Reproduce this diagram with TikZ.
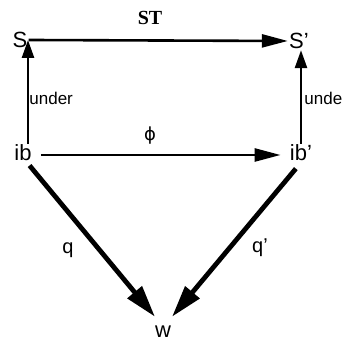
\documentclass[tikz,border=0pt]{standalone}
\usepackage{fontspec}
\setmainfont{Liberation Sans}
\newfontfamily\serfont{Liberation Serif}
\newfontfamily\grkfont{DejaVu Sans}
\usetikzlibrary{arrows.meta,positioning}
\tikzset{obj/.style={inner sep=0.5pt,font=\fontsize{11}{13}\selectfont},
 lab/.style={inner sep=0.5pt,font=\fontsize{8.5}{10}\selectfont},
 arr/.style={-{Triangle[length=13pt,width=6.5pt]},line width=1.3pt},
 uarr/.style={-{Triangle[length=9pt,width=6pt]},line width=1.3pt},
 darr/.style={-{Triangle[length=16pt,width=9pt]},line width=2.4pt}}
\begin{document}
\begin{tikzpicture}[x=0.5pt,y=-0.5pt]
\useasboundingbox (0,0) rectangle (343,340);
% objects
\node[obj] (S) at (20,40) {S};\node[obj] (S2) at (299,41) {S'};
\node[obj] (ib) at (23,153) {ib};\node[obj] (ib2) at (301,153) {ib'};
\node[obj] (w) at (163,332) {w};
% maps
\draw[arr] (S.east)--(S2.west);
\draw[arr,shorten <=4pt,shorten >=4pt] ([yshift=-1pt]ib.east)--([yshift=-1pt]ib2.west);
\draw[uarr] ([xshift=2.5pt]ib.north)--([xshift=2.5pt]ib.north |- S.east);
\draw[uarr] (ib2.north)--(ib2.north |- S2.south);
\draw[darr,shorten <=2pt] ([xshift=2pt]ib.south)--([xshift=-4pt,yshift=4pt]w.north);
\draw[darr,shorten <=4pt] (ib2.south)--([xshift=4.5pt,yshift=4pt]w.north);
% labels
\node[lab,font=\serfont\bfseries\fontsize{10}{12}\selectfont] (st) at (150,18) {ST};
\node[lab,font=\grkfont\fontsize{9}{11}\selectfont] (phi) at (150,136) {ϕ};
\node[lab,anchor=west] (un1) at (28,98) {under};\node[lab,anchor=west] (un2) at (303,98) {unde};
\node[lab,font=\fontsize{10}{12}\selectfont] (q) at (68,250) {q};
\node[lab,font=\fontsize{10}{12}\selectfont] (q2) at (260,248) {q'};
\end{tikzpicture}
\end{document}
